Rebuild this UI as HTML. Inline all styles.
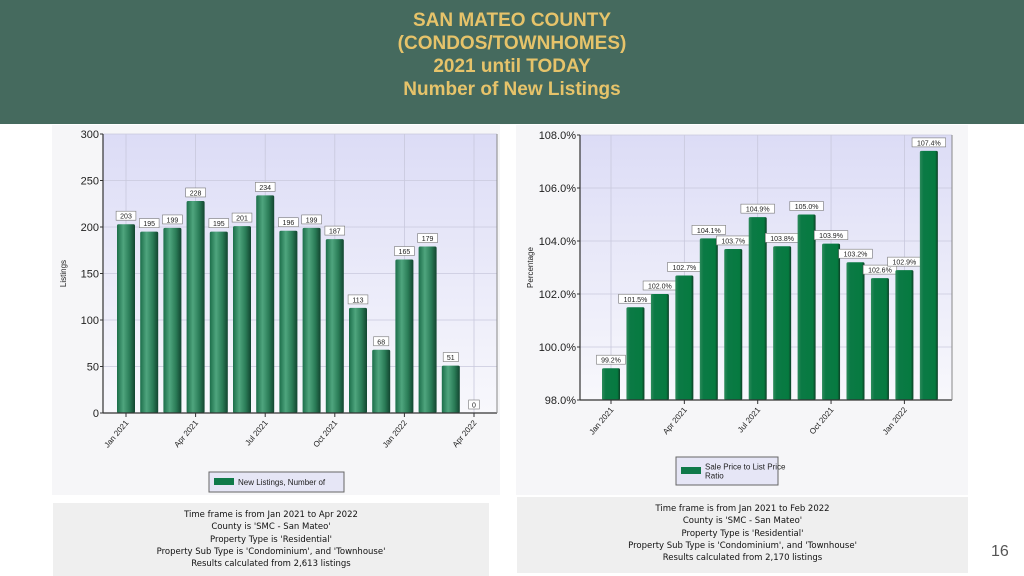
<!DOCTYPE html>
<html><head><meta charset="utf-8"><style>
body{margin:0;width:1024px;height:576px;background:#fff;position:relative;overflow:hidden;font-family:"Liberation Sans",sans-serif}
#hdr{position:absolute;left:0;top:0;width:1024px;height:124px;background:#456a5e}
#title{position:absolute;left:0;top:9px;width:1024px;text-align:center;color:#e6c36a;font-weight:bold;font-size:19px;line-height:23px}
.info{position:absolute;background:#efefef;text-align:center;font-family:"DejaVu Sans",sans-serif;font-size:8.5px;line-height:12.3px;color:#111}
#pg{position:absolute;left:991px;top:543px;font-size:16px;color:#555}
</style></head><body>
<div id="hdr"></div>
<div id="title">SAN MATEO COUNTY<br>(CONDOS/TOWNHOMES)<br>2021 until TODAY<br>Number of New Listings</div>
<svg id="svg" width="1024" height="576" style="position:absolute;left:0;top:0">
<defs>
<linearGradient id="bgL" x1="0" y1="0" x2="0" y2="1"><stop offset="0" stop-color="#dcdcf6"/><stop offset="1" stop-color="#f8f8fc"/></linearGradient>
<linearGradient id="barG" x1="0" y1="0" x2="1" y2="0"><stop offset="0" stop-color="#1c6e4a"/><stop offset="0.35" stop-color="#4fa57e"/><stop offset="0.7" stop-color="#2a7c57"/><stop offset="1" stop-color="#12452f"/></linearGradient>
<linearGradient id="barR" x1="0" y1="0" x2="1" y2="0"><stop offset="0" stop-color="#2d8a5b"/><stop offset="0.2" stop-color="#0b7a45"/><stop offset="0.85" stop-color="#067a40"/><stop offset="1" stop-color="#0d3d25"/></linearGradient>
</defs>
<rect x="52" y="125" width="448" height="370" fill="#f6f6f8"/>
<rect x="516" y="125" width="452" height="370" fill="#f6f6f8"/>
<g id="gL"></g><g id="gR"></g>
</svg>
<div class="info" style="left:53px;top:503px;width:436px;height:73px;padding-top:6px;box-sizing:border-box">Time frame is from Jan 2021 to Apr 2022<br>County is 'SMC - San Mateo'<br>Property Type is 'Residential'<br>Property Sub Type is 'Condominium', and 'Townhouse'<br>Results calculated from 2,613 listings</div>
<div class="info" style="left:517px;top:497px;width:451px;height:76px;padding-top:6px;box-sizing:border-box">Time frame is from Jan 2021 to Feb 2022<br>County is 'SMC - San Mateo'<br>Property Type is 'Residential'<br>Property Sub Type is 'Condominium', and 'Townhouse'<br>Results calculated from 2,170 listings</div>
<div id="pg">16</div>
<script>
const leftValues=[203,195,199,228,195,201,234,196,199,187,113,68,165,179,51,0];
const leftTicks=[0,50,100,150,200,250,300];
const leftXLabels=["Jan 2021","Apr 2021","Jul 2021","Oct 2021","Jan 2022","Apr 2022"];
const rightValues=[99.2,101.5,102.0,102.7,104.1,103.7,104.9,103.8,105.0,103.9,103.2,102.6,102.9,107.4];
const rightTicks=[98,100,102,104,106,108];
const rightXLabels=["Jan 2021","Apr 2021","Jul 2021","Oct 2021","Jan 2022"];
const NS="http://www.w3.org/2000/svg";
function mk(p,tag,at){const e=document.createElementNS(NS,tag);for(const k in at)e.setAttribute(k,at[k]);p.appendChild(e);return e;}
function chart(g,o){
 const sy=v=>o.y1-(v-o.min)/(o.max-o.min)*(o.y1-o.y0);
 const sx=i=>o.c0+i*o.step;
 const bg=mk(g,'rect',{x:o.x0,y:o.y0,width:o.x1-o.x0,height:o.y1-o.y0,fill:'url(#bgL)'});
 
 
 o.ticks.forEach(t=>{
  const y=sy(t);
  mk(g,'line',{x1:o.x0,x2:o.x1,y1:y,y2:y,stroke:'#c8c8dc','stroke-width':0.8});
  const tl=mk(g,'text',{x:o.x0-4,y:y+4,'text-anchor':'end','font-size':11,fill:'#222'});
  tl.textContent=o.fmt(t);
  
  
  mk(g,'line',{x1:o.x0-3,x2:o.x0,y1:y,y2:y,stroke:'#333'});
 });
 o.xl.forEach((l,k)=>{
  const x=sx(k*3);
  mk(g,'line',{x1:x,x2:x,y1:o.y0,y2:o.y1,stroke:'#c8c8dc','stroke-width':0.8});
  mk(g,'line',{x1:x,x2:x,y1:o.y1,y2:o.y1+4,stroke:'#333'});
  const t=mk(g,'text',{x:x+3,y:o.y1+10,'text-anchor':'end','font-size':8,fill:'#222',transform:`rotate(-50 ${x+3} ${o.y1+10})`});
  t.textContent=l;
  
  
 });
 o.vals.forEach((v,i)=>{
  const x=sx(i),y=sy(v),w=o.bw;
  if(v>o.min){
   const b=mk(g,'rect',{x:x-w/2,y:y,width:w,height:o.y1-y,fill:o.fill,rx:1.5});
   
   
  }
  const s=o.lab(v),lw=s.length*4.6+6;
  const lb=mk(g,'rect',{x:x-lw/2,y:y-13,width:lw,height:9,fill:'#fff',stroke:'#777','stroke-width':0.6});
  
  
  const t=mk(g,'text',{x:x,y:y-5.5,'text-anchor':'middle','font-size':7,fill:'#222'});
  t.textContent=s;
  
  
 });
 mk(g,'line',{x1:o.x0,x2:o.x0,y1:o.y0,y2:o.y1,stroke:'#333','stroke-width':1.2});
 mk(g,'line',{x1:o.x0,x2:o.x1,y1:o.y1,y2:o.y1,stroke:'#333','stroke-width':1.2});
 mk(g,'line',{x1:o.x1,x2:o.x1,y1:o.y0,y2:o.y1,stroke:'#888','stroke-width':1});
 const yt=mk(g,'text',{x:o.ytx,y:(o.y0+o.y1)/2,'text-anchor':'middle','font-size':8,fill:'#222',transform:`rotate(-90 ${o.ytx} ${(o.y0+o.y1)/2})`});
 yt.textContent=o.ytitle;
 
 
}
chart(document.getElementById('gL'),{x0:103,x1:497,y0:134,y1:413,min:0,max:300,c0:126,step:23.2,bw:18,vals:leftValues,ticks:leftTicks,xl:leftXLabels,fmt:t=>t,lab:v=>String(v),fill:'url(#barG)',ytitle:'Listings',ytx:66});
chart(document.getElementById('gR'),{x0:580,x1:952,y0:135,y1:400,min:98,max:108,c0:611,step:24.45,bw:18,vals:rightValues,ticks:rightTicks,xl:rightXLabels,fmt:t=>t.toFixed(1)+'%',lab:v=>v.toFixed(1)+'%',fill:'url(#barR)',ytitle:'Percentage',ytx:533});
const svg=document.getElementById('svg');
function legend(x,y,w,h,txt,nm){
 const r=mk(svg,'rect',{x:x,y:y,width:w,height:h,fill:'#e6e6f6',stroke:'#666','stroke-width':1});
 
 
 mk(svg,'rect',{x:x+5,y:y+h/2-4,width:20,height:7,fill:'#107a4a'});
 txt.forEach((s,i)=>{const t=mk(svg,'text',{x:x+29,y:y+h/2+3-(txt.length-1)*4.5+i*9,'font-size':8,fill:'#222'});t.textContent=s;
 
 });
}
legend(209,472,135,20,['New Listings, Number of'],'legend-new-listings');
legend(676,457,102,28,['Sale Price to List Price','Ratio'],'legend-sale-ratio');
</script>
</body></html>
